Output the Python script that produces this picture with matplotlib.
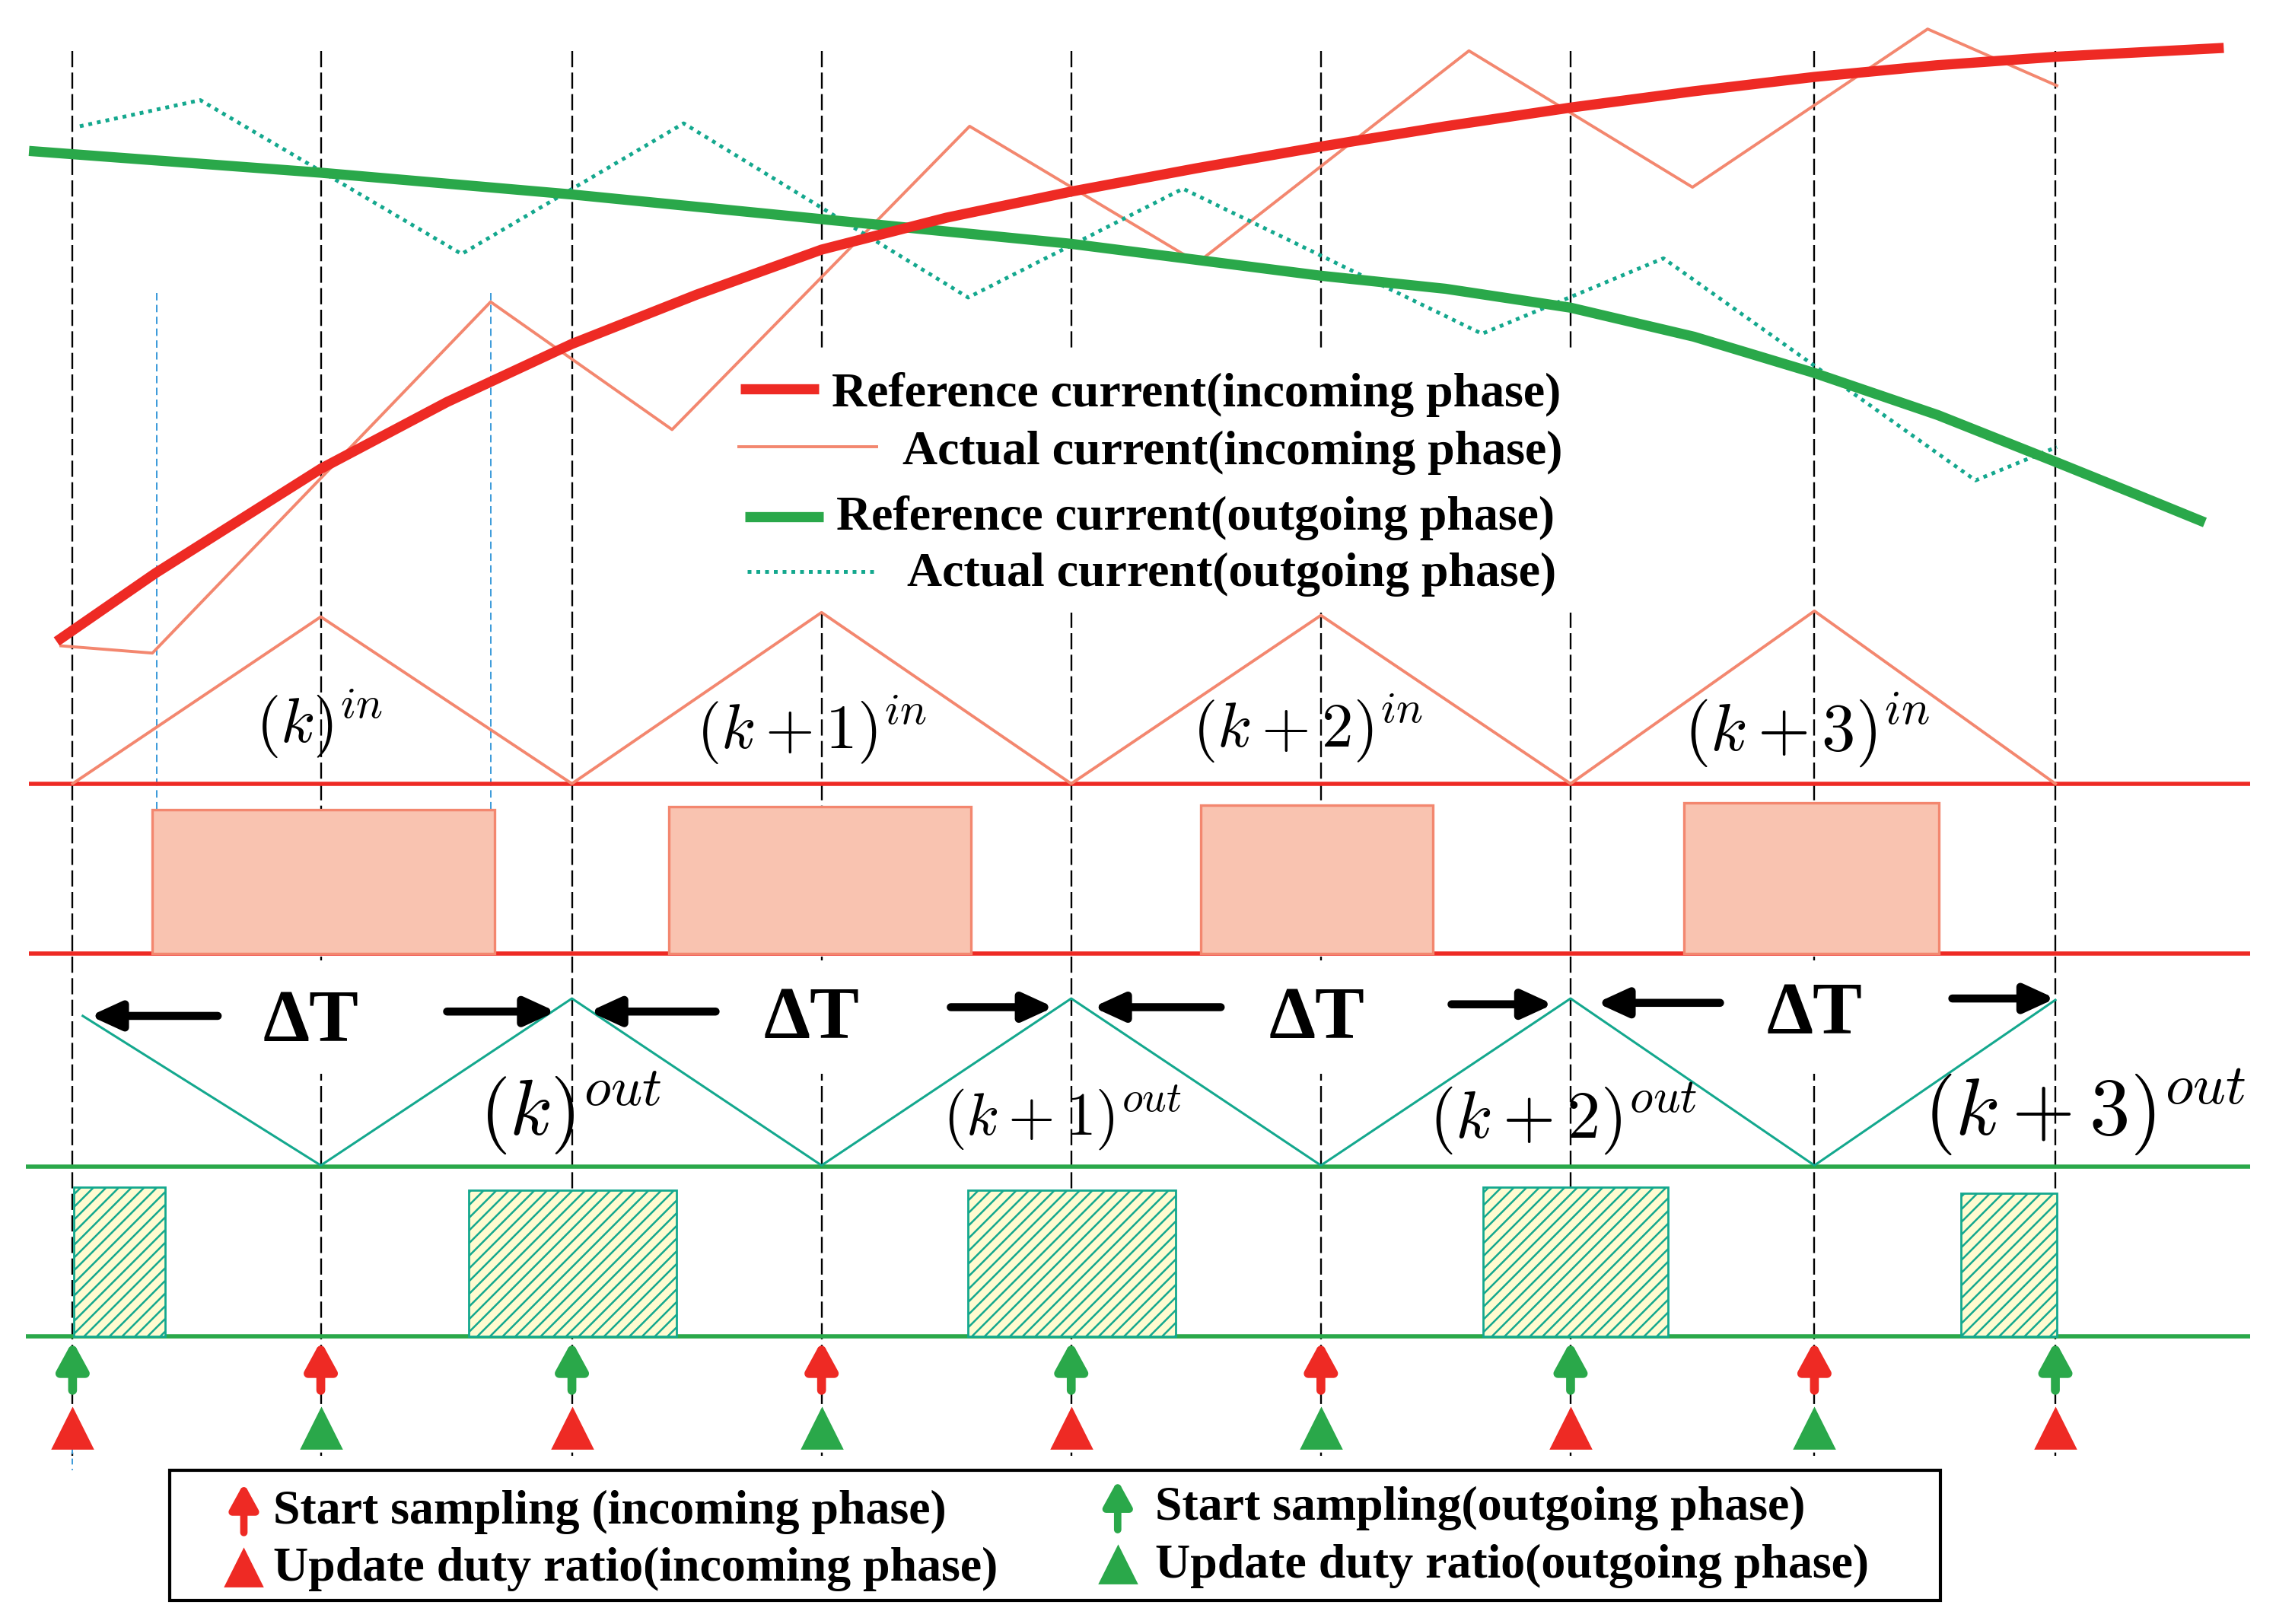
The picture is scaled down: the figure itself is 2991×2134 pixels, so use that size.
import matplotlib.pyplot as plt

plt.rcParams['mathtext.fontset'] = 'cm'
plt.rcParams['hatch.linewidth'] = 0.9

RED = '#ee2a24'
SALMON = '#f3876f'
PINK = '#f9c3b0'
GREEN = '#2aa84a'
TEAL = '#14a88e'
HATCH_BG = '#fffbd0'
SERIF = ['Liberation Serif', 'DejaVu Serif']

# time axis (arbitrary units), the sampling instants of both phases
instants = [50, 221, 394, 566, 738, 910, 1082, 1250, 1416]

# currents, drawn on an inverted level axis (small value = high current)
ref_in_t = [39, 107, 221, 308, 394, 480, 566, 652, 738, 824, 910, 996, 1083, 1166, 1250, 1334, 1418, 1532]
ref_in_y = [442, 395, 323, 277, 237, 203, 172, 150, 132, 116, 101, 87, 74, 63, 53, 45, 39, 33]
act_in_t = [42, 105, 338, 463, 668, 825, 1012, 1166, 1328, 1417]
act_in_y = [445, 450, 208, 296, 87, 181, 35, 129, 20, 59]
ref_out_t = [20, 221, 394, 566, 738, 910, 996, 1082, 1167, 1250, 1335, 1418, 1470, 1519]
ref_out_y = [104, 119, 134, 151, 168, 190, 199, 212, 232, 257, 286, 319, 340, 360]
act_out_t = [55, 138, 318, 471, 667, 815, 1021, 1146, 1361, 1417]
act_out_y = [87, 69, 175, 85, 205, 130, 230, 178, 331, 308]

# PWM carriers
carrier_in_y = [540, 425, 540, 422, 540, 424, 540, 421, 540]
carrier_out_t = [57, 221, 394, 566, 738, 910, 1082, 1250, 1416]
carrier_out_y = [700, 803, 688, 803, 688, 803, 688, 803, 689]
in_levels = [540, 657]
out_levels = [804, 921]

# gate pulses
pulse_in_on = [105, 461, 827, 1160]
pulse_in_off = [341, 669, 987, 1336]
pulse_in_top = [558, 556, 555, 553]
pulse_out_on = [51, 323, 667, 1022, 1351]
pulse_out_off = [114, 466, 810, 1149, 1417]
pulse_out_top = [818, 820, 820, 818, 822]

# carrier labels
in_labels = [r'$(k)^{in}$', r'$(k+1)^{in}$', r'$(k+2)^{in}$', r'$(k+3)^{in}$']
in_label_t = [220, 559, 901, 1245]
in_label_y = [499, 503, 502, 503]
in_label_size = [30, 30, 30, 32]
out_labels = [r'$(k)^{out}$', r'$(k+1)^{out}$', r'$(k+2)^{out}$', r'$(k+3)^{out}$']
out_label_t = [393, 732, 1077, 1436]
out_label_y = [767, 770, 771, 766]
out_label_size = [37, 28.5, 32, 38.5]

# delta T markers
dt_t = [214, 559, 907, 1250]
dt_y = [705, 703, 703, 700]
left_tail = [150, 493, 841, 1185]
left_head = [62, 406, 753, 1100]
left_y = [700, 697, 694, 691]
right_tail = [308, 655, 1000, 1345]
right_head = [383, 726, 1070, 1416]
right_y = [697, 694, 692, 688]

# which phase starts sampling / updates duty at each instant
sample_phase = ['out', 'in', 'out', 'in', 'out', 'in', 'out', 'in', 'out']
update_phase = ['in', 'out', 'in', 'out', 'in', 'out', 'in', 'out', 'in']

top_legend = ['Reference current(incoming phase)', 'Actual current(incoming phase)',
              'Reference current(outgoing phase)', 'Actual current(outgoing phase)']
bottom_legend = ['Start sampling (incoming phase)', 'Update duty ratio(incoming phase)',
                 'Start sampling(outgoing phase)', 'Update duty ratio(outgoing phase)']

phase_color = {'in': RED, 'out': GREEN}

fig = plt.figure(figsize=(14.955, 10.67), dpi=200)
ax = fig.add_axes([0, 0, 1, 1])
ax.set_xlim(0, 1568)
ax.set_ylim(1119, 0)
ax.axis('off')

# sampling instants
ax.vlines(instants, 35, 1003, colors='black', lw=0.85, linestyles=(0, (9, 3)), zorder=1)
ax.vlines([108, 338], 202, 558, colors='#3a9ad9', lw=0.7, linestyles=(0, (5, 3)), zorder=1)
ax.vlines([50], 998, 1013, colors='#3a9ad9', lw=0.7, linestyles=(0, (4, 3)), zorder=1)

# currents
ax.plot(act_in_t, act_in_y, color=SALMON, lw=1.4, zorder=3)
ax.plot(act_out_t, act_out_y, color=TEAL, lw=1.8, ls=(0, (1.0, 1.3)), zorder=3)
ax.plot(ref_out_t, ref_out_y, color=GREEN, lw=4.8, solid_capstyle='butt',
        solid_joinstyle='round', zorder=4)
ax.plot(ref_in_t, ref_in_y, color=RED, lw=4.8, solid_capstyle='butt',
        solid_joinstyle='round', zorder=4)

# legend of the currents
ax.add_patch(plt.Rectangle((503, 240), 585, 182, fc='white', ec='none', zorder=2))
leg_x0 = [510, 508, 513, 515]
leg_x1 = [564, 605, 567, 605]
leg_y = [268, 308, 356, 394]
leg_tx = [573, 622, 576, 625]
leg_ty = [280, 320, 365, 404]
leg_style = [dict(color=RED, lw=4.8), dict(color=SALMON, lw=1.4),
             dict(color=GREEN, lw=4.8), dict(color=TEAL, lw=1.8, ls=(0, (1.0, 1.3)))]
for i in range(4):
    ax.plot([leg_x0[i], leg_x1[i]], [leg_y[i], leg_y[i]], solid_capstyle='butt', zorder=5, **leg_style[i])
    ax.text(leg_tx[i], leg_ty[i], top_legend[i], fontsize=23, fontweight='bold',
            family=SERIF, va='baseline', ha='left', zorder=5)

# incoming phase carrier and pulses
ax.hlines(in_levels, 20, 1550, colors=RED, lw=2.0, zorder=3)
ax.plot(instants, carrier_in_y, color=SALMON, lw=1.4, zorder=3)
ax.bar(pulse_in_on, [t - in_levels[1] for t in pulse_in_top],
       width=[b - a for a, b in zip(pulse_in_on, pulse_in_off)], bottom=in_levels[1],
       align='edge', facecolor=PINK, edgecolor=SALMON, lw=1.2, zorder=3)
for s, tx, ty, fs in zip(in_labels, in_label_t, in_label_y, in_label_size):
    ax.text(tx, ty, s, fontsize=fs, ha='center', va='center', zorder=5)

# outgoing phase carrier and pulses
ax.hlines(out_levels, 18, 1550, colors=GREEN, lw=2.0, zorder=3)
ax.plot(carrier_out_t, carrier_out_y, color=TEAL, lw=1.1, zorder=3)
ax.bar(pulse_out_on, [t - out_levels[1] for t in pulse_out_top],
       width=[b - a for a, b in zip(pulse_out_on, pulse_out_off)], bottom=out_levels[1],
       align='edge', facecolor=HATCH_BG, edgecolor=TEAL, hatch='////', lw=1.0, zorder=3)
for s, tx, ty, fs in zip(out_labels, out_label_t, out_label_y, out_label_size):
    ax.text(tx, ty, s, fontsize=fs, ha='center', va='center', zorder=5)

# delta T
for i in range(4):
    ax.add_patch(plt.Rectangle((dt_t[i] - 38, 662), 76, 78, fc='white', ec='none', zorder=2))
    ax.text(dt_t[i], dt_y[i], '\u0394T', fontsize=35, fontweight='bold', family=SERIF,
            ha='center', va='center', zorder=5)
    for tail, head, yy in ((left_tail[i], left_head[i], left_y[i]),
                           (right_tail[i], right_head[i], right_y[i])):
        ax.annotate('', xy=(head, yy), xytext=(tail, yy), zorder=6,
                    arrowprops=dict(arrowstyle='-|>,head_length=12,head_width=5.5',
                                    mutation_scale=1, lw=3.8, color='black',
                                    shrinkA=0, shrinkB=0))

# sampling / update events
for t, sp, up in zip(instants, sample_phase, update_phase):
    ax.annotate('', xy=(t, 924), xytext=(t, 958), zorder=6,
                arrowprops=dict(arrowstyle='-|>,head_length=11,head_width=6',
                                mutation_scale=1, lw=4.2, color=phase_color[sp],
                                shrinkA=0, shrinkB=0))
    ax.plot([t], [984], marker='^', ms=18.5, color=phase_color[up], ls='none', zorder=6)

# legend of the events
ax.add_patch(plt.Rectangle((117, 1013), 1220, 90, fc='white', ec='black', lw=1.5, zorder=5))
ev_x = [168, 168, 770, 770]
ev_y = [1056, 1080, 1054, 1078]
ev_tx = [188, 188, 796, 796]
ev_ty = [1050, 1089, 1047, 1087]
ev_phase = ['in', 'in', 'out', 'out']
for i in range(4):
    if i % 2 == 0:
        ax.annotate('', xy=(ev_x[i], ev_y[i] - 34), xytext=(ev_x[i], ev_y[i]), zorder=6,
                    arrowprops=dict(arrowstyle='-|>,head_length=10,head_width=5.5',
                                    mutation_scale=1, lw=3.5, color=phase_color[ev_phase[i]],
                                    shrinkA=0, shrinkB=0))
    else:
        ax.plot([ev_x[i]], [ev_y[i]], marker='^', ms=17, color=phase_color[ev_phase[i]],
                ls='none', zorder=6)
    ax.text(ev_tx[i], ev_ty[i], bottom_legend[i], fontsize=23, fontweight='bold',
            family=SERIF, va='baseline', ha='left', zorder=6)

fig.savefig('out.png', dpi=200)
